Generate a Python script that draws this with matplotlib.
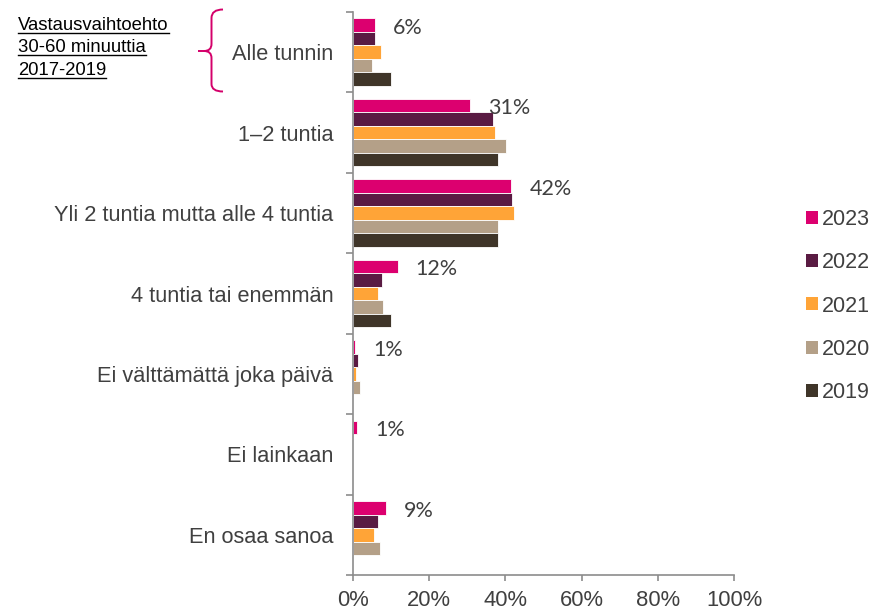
import numpy as np
import matplotlib
matplotlib.use("Agg")
import matplotlib.pyplot as plt
from matplotlib.patches import Patch, PathPatch
from matplotlib.path import Path
from matplotlib.lines import Line2D

categories = ["Alle tunnin", "1–2 tuntia", "Yli 2 tuntia mutta alle 4 tuntia",
              "4 tuntia tai enemmän", "Ei välttämättä joka päivä",
              "Ei lainkaan", "En osaa sanoa"]
years = ["2023", "2022", "2021", "2020", "2019"]
nan = np.nan
v2023 = [5.7, 30.8, 41.6, 11.7, 0.6, 1.0, 8.6]
v2022 = [5.9, 36.7, 41.8, 7.6, 1.3, nan, 6.6]
v2021 = [7.3, 37.4, 42.3, 6.6, 0.7, nan, 5.6]
v2020 = [4.9, 40.1, 38.0, 7.9, 1.9, nan, 7.0]
v2019 = [10.0, 38.0, 38.0, 10.0, nan, nan, nan]
series = [v2023, v2022, v2021, v2020, v2019]
colors = ["#DC006F", "#5A1B43", "#FFA437", "#B4A088", "#3F3529"]
xticks = [0, 20, 40, 60, 80, 100]

note_lines = ["Vastausvaihtoehto", "30-60 minuuttia", "2017-2019"]

W, H = 896, 612
txt = "#404040"
axc = "#8C8C8C"
plt.rcParams['font.family'] = ['Liberation Sans', 'DejaVu Sans']

fig = plt.figure(figsize=(W / 100, H / 100), dpi=100)
ax = fig.add_axes([353 / W, 1 - 575 / H, (734 - 353) / W, (575 - 12) / H])

y = np.arange(len(categories))
bh = 0.168
for j, (vals, c) in enumerate(zip(series, colors)):
    ax.barh(y - 2 * bh + j * bh, vals, height=bh, color=c,
            edgecolor="white", linewidth=0.6, label=years[j])

for i, v in enumerate(v2023):
    ax.annotate(f"{round(v)}%", (v, y[i] - 2 * bh), xytext=(13, -2),
                textcoords="offset points", ha="left", va="center",
                fontsize=15.5, color=txt, family="Lato")

ax.set_xlim(0, 100)
ax.set_ylim(len(categories) - 0.5, -0.5)
ax.set_xticks(xticks)
ax.set_xticklabels([f"{t}%" for t in xticks])
ax.set_yticks(y)
ax.set_yticklabels(categories)
ax.set_yticks(np.arange(len(categories) + 1) - 0.5, minor=True)
ax.tick_params(axis="y", which="major", length=0, pad=14, labelsize=15.7,
               labelcolor=txt)
ax.tick_params(axis="y", which="minor", length=5, width=1.2, color=axc,
               direction="out")
ax.tick_params(axis="x", length=4, width=1.2, color=axc, pad=7,
               labelsize=15.8, labelcolor=txt)
for s in ["top", "right"]:
    ax.spines[s].set_visible(False)
for s in ["left", "bottom"]:
    ax.spines[s].set_color(axc)
    ax.spines[s].set_linewidth(1.2)

handles = [Patch(facecolor=c, edgecolor="none") for c in colors]
fig.legend(handles, years, loc="center left",
           bbox_to_anchor=(806 / W, 1 - 306 / H), frameon=False,
           fontsize=15.5, handlelength=0.55, handleheight=0.55,
           handletextpad=0.2, labelspacing=1.03, labelcolor=txt,
           borderpad=0, borderaxespad=0)


def px(x, yy):
    return (x / W, 1 - yy / H)


# brace
verts = [px(223, 9.5), px(211.5, 9.5), px(211.5, 18), px(211.5, 44),
         px(211.5, 51), px(204, 51), px(198, 51),
         px(204, 51), px(211.5, 51), px(211.5, 58), px(211.5, 84),
         px(211.5, 91.5), px(223, 91.5)]
codes = [Path.MOVETO, Path.CURVE3, Path.CURVE3, Path.LINETO,
         Path.CURVE3, Path.CURVE3, Path.LINETO,
         Path.MOVETO, Path.CURVE3, Path.CURVE3, Path.LINETO,
         Path.CURVE3, Path.CURVE3]
fig.add_artist(PathPatch(Path(verts, codes), transform=fig.transFigure,
                         facecolor="none", edgecolor="#D4006A", lw=1.4))

# underlined note
baselines = [30, 52.5, 75]
texts = []
for line, b in zip(note_lines, baselines):
    texts.append(fig.text(*px(18, b), line, fontsize=13.3, color="black",
                          ha="left", va="baseline"))
fig.canvas.draw()
r = fig.canvas.get_renderer()
for t, b in zip(texts, baselines):
    bb = t.get_window_extent(r)
    fig.add_artist(Line2D([bb.x0 / W, bb.x1 / W],
                          [1 - (b + 2.5) / H] * 2,
                          transform=fig.transFigure, color="black", lw=1.0))

fig.savefig("out.png", dpi=100)
